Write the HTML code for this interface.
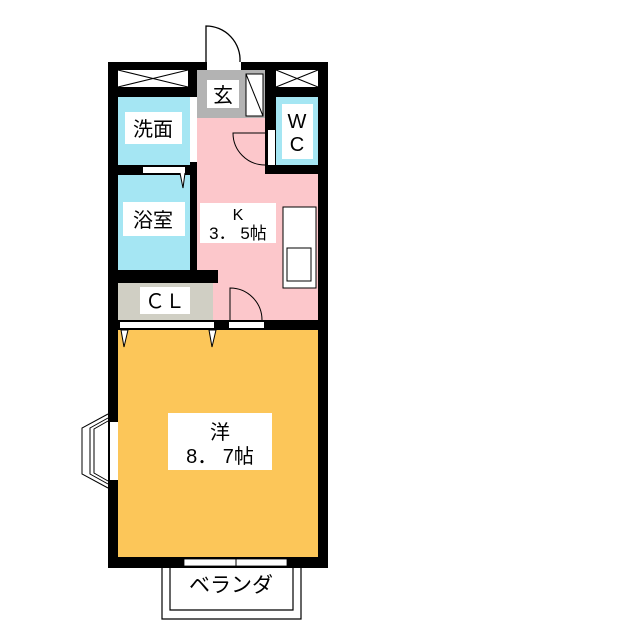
<!DOCTYPE html>
<html><head><meta charset="utf-8"><style>body{margin:0;background:#fff}svg{display:block}text{font-family:"Liberation Sans","Noto Sans CJK JP",sans-serif}</style></head><body>
<svg width="640" height="640" viewBox="0 0 640 640" xmlns="http://www.w3.org/2000/svg">
<rect x="0" y="0" width="640" height="640" fill="#fff"/>
<path d="M206 62 V26 A34 34 0 0 1 240 62" fill="#fff" stroke="#000" stroke-width="1.3"/>
<rect x="108" y="62" width="220" height="506" fill="#000"/>
<rect x="118" y="70" width="70" height="17" fill="#fff"/>
<path d="M118 70 L188 87 M118 87 L188 70" stroke="#000" stroke-width="1"/>
<rect x="276" y="70" width="42" height="17" fill="#fff"/>
<path d="M276 70 L318 87 M276 87 L318 70" stroke="#000" stroke-width="1"/>
<rect x="207" y="62" width="34" height="8" fill="#fff"/>
<rect x="197" y="70" width="68" height="48" fill="#b3b3b3"/>
<rect x="246" y="74" width="17" height="42" fill="#fff" stroke="#000"/>
<path d="M246 74 L263 116" stroke="#000"/>
<rect x="207" y="80" width="32" height="28" fill="#fff"/>
<text x="223" y="102" font-size="20" text-anchor="middle">玄</text>
<rect x="118" y="97" width="72" height="68" fill="#a5e6f3"/>
<rect x="190" y="97" width="7" height="65" fill="#fff"/>
<rect x="125" y="112" width="57" height="32" fill="#fff"/>
<text x="153" y="136" font-size="20" text-anchor="middle">洗面</text>
<rect x="197" y="118" width="121" height="202" fill="#fcc7cb"/>
<rect x="265" y="97" width="11" height="76" fill="#000"/>
<rect x="265" y="165" width="63" height="9" fill="#000"/>
<rect x="276" y="97" width="42" height="68" fill="#a5e6f3"/>
<rect x="282" y="104" width="31" height="55" fill="#fff"/>
<text x="297" y="128" font-size="20" text-anchor="middle">W</text>
<text x="297" y="151" font-size="20" text-anchor="middle">C</text>
<rect x="268" y="130" width="7" height="35" fill="#fff"/>
<path d="M265 165 A32 32 0 0 1 233 133 L265 133" fill="none" stroke="#000"/>
<rect x="283" y="207" width="33" height="81" fill="#fff" stroke="#000"/>
<rect x="287" y="248" width="24" height="33" fill="#fff" stroke="#000"/>
<rect x="200" y="203" width="76" height="40" fill="#fff"/>
<text x="238" y="220" font-size="16" text-anchor="middle">K</text>
<text x="238" y="239" font-size="17" text-anchor="middle">3． 5帖</text>
<rect x="118" y="175" width="72" height="95" fill="#a5e6f3"/>
<rect x="143" y="167" width="42" height="6" fill="#fff"/>
<path d="M180 173 L183 188 L185 173" fill="#fff" stroke="#000"/>
<rect x="123" y="202" width="62" height="34" fill="#fff"/>
<text x="153" y="227" font-size="20" text-anchor="middle">浴室</text>
<rect x="108" y="270" width="110" height="13" fill="#000"/>
<rect x="118" y="283" width="95" height="37" fill="#d0cfc4"/>
<rect x="140" y="287" width="50" height="27" fill="#fff"/>
<text x="165" y="308" font-size="20" text-anchor="middle">ＣＬ</text>
<path d="M230 320 V288 A32 32 0 0 1 262 320" fill="none" stroke="#000"/>
<rect x="229" y="322" width="35" height="6" fill="#fff"/>
<rect x="120" y="322" width="94" height="6" fill="#fff"/>
<rect x="118" y="330" width="200" height="227" fill="#fcc659"/>
<path d="M121 330 L124 347 L128 330 Z M209 330 L212 347 L216 330 Z" fill="#fff" stroke="#000"/>
<rect x="110" y="422" width="8" height="58" fill="#fff"/>
<path d="M108 414 L82 428 L82 474 L108 488 M108 418 L90 428 L90 474 L108 484 M108 421 L94 429 L94 473 L108 481" fill="#fff" stroke="#000"/>
<rect x="168" y="413" width="104" height="57" fill="#fff"/>
<text x="220" y="439" font-size="20" text-anchor="middle">洋</text>
<text x="220" y="463" font-size="20" text-anchor="middle">8． 7帖</text>
<rect x="184" y="559" width="103" height="7" fill="#fff" stroke="#000" stroke-width="0.8"/>
<path d="M236 558 V568" stroke="#000"/>
<path d="M162 568 V619 H301 V568 M170 568 V610 H293 V568" fill="none" stroke="#000" stroke-width="1.2"/>
<text x="231" y="592" font-size="21" text-anchor="middle">ベランダ</text>
</svg>
</body></html>
